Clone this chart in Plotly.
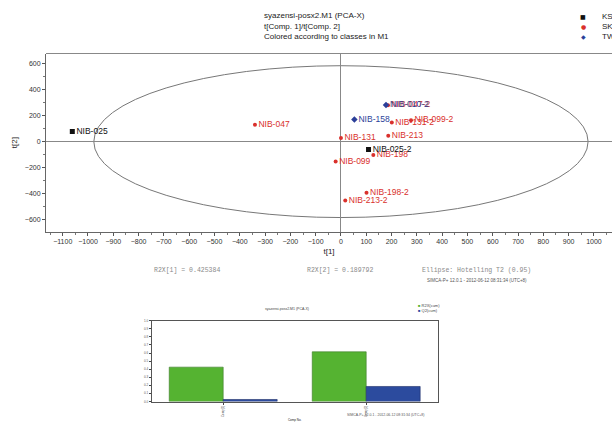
import plotly.graph_objects as go

# ---------------- data ----------------
ks_names = ["NIB-025", "NIB-025-2"]
ks_t1 = [-1062, 109]
ks_t2 = [78, -61]

sk_names = ["NIB-047", "NIB-047-2", "NIB-131-2", "NIB-099-2", "NIB-213",
            "NIB-131", "NIB-198", "NIB-099", "NIB-198-2", "NIB-213-2"]
sk_t1 = [-340, 186, 201, 277, 187, 0, 128, -21, 101, 17]
sk_t2 = [130, 280, 147, 165, 46, 28, -104, -153, -394, -453]

tw_names = ["NIB-158", "NIB-010-2"]
tw_t1 = [53, 178]
tw_t2 = [170, 282]

ellipse_a = 977   # Hotelling T2 (0.95) semi-axis on t[1]
ellipse_b = 585   # semi-axis on t[2]

comps = ["Comp[1]", "Comp[2]"]
r2x_cum = [0.425384, 0.615176]
q2_cum = [0.025, 0.186]

title_lines = ["syazensi-posx2.M1 (PCA-X)", "t[Comp. 1]/t[Comp. 2]",
               "Colored according to classes in M1"]
class_names = ["KS", "SK", "TW"]

# ---------------- figure ----------------
W, H = 612, 426
def px(x): return x / W
def py(y): return 1 - y / H

RED = "#d9302c"
BLUE = "#2b3f99"
BLACK = "#111111"
FONT = "Liberation Sans"
class_colors = [BLACK, RED, BLUE]
class_glyphs = ["■", "●", "◆"]

fig = go.Figure()

fig.add_trace(go.Scatter(x=sk_t1, y=sk_t2, mode="markers+text", name="SK",
                         text=sk_names, textposition="middle right",
                         textfont=dict(color=RED, size=8.5, family=FONT),
                         marker=dict(color=RED, size=4, symbol="circle"),
                         xaxis="x", yaxis="y"))
fig.add_trace(go.Scatter(x=tw_t1, y=tw_t2, mode="markers+text", name="TW",
                         text=tw_names, textposition="middle right",
                         textfont=dict(color=BLUE, size=8.5, family=FONT),
                         marker=dict(color=BLUE, size=5, symbol="diamond"),
                         xaxis="x", yaxis="y"))
fig.add_trace(go.Scatter(x=ks_t1, y=ks_t2, mode="markers+text", name="KS",
                         text=ks_names, textposition="middle right",
                         textfont=dict(color=BLACK, size=8.5, family=FONT),
                         marker=dict(color=BLACK, size=5, symbol="square"),
                         xaxis="x", yaxis="y"))

fig.add_trace(go.Bar(x=comps, y=r2x_cum, name="R2X(cum)",
                     marker=dict(color="#55b331", line=dict(color="#3c7a2a", width=0.6)),
                     xaxis="x2", yaxis="y2"))
fig.add_trace(go.Bar(x=comps, y=q2_cum, name="Q2(cum)",
                     marker=dict(color="#2c4b9e", line=dict(color="#1c2e66", width=0.6)),
                     xaxis="x2", yaxis="y2"))

# ellipse
fig.add_shape(type="circle", xref="x", yref="y",
              x0=-ellipse_a, x1=ellipse_a, y0=-ellipse_b, y1=ellipse_b,
              line=dict(color="#777777", width=1), layer="below")

tickfont = dict(size=7, color="#333333", family=FONT)
fig.update_layout(
    width=W, height=H, margin=dict(l=0, r=0, t=0, b=0),
    paper_bgcolor="white", plot_bgcolor="white",
    font=dict(family=FONT, color="#222222"),
    showlegend=False,
    barmode="group", bargap=0.245, bargroupgap=0,
    xaxis=dict(domain=[px(46), 1.0], range=[-1166, 1071.5], anchor="y",
               tickmode="linear", tick0=-1100, dtick=100, ticks="outside",
               ticklen=3, tickcolor="#555", tickfont=tickfont,
               minor=dict(dtick=50, ticks="outside", ticklen=2, tickcolor="#777"),
               showline=True, linecolor="#666", linewidth=1, showgrid=False,
               zeroline=True, zerolinecolor="#888", zerolinewidth=1,
               title=dict(text="t[1]", font=dict(size=8, family=FONT), standoff=4)),
    yaxis=dict(domain=[py(232), py(52)], range=[-695, 679], anchor="x",
               tickmode="linear", tick0=-600, dtick=200, ticks="outside",
               ticklen=3, tickcolor="#555", tickfont=tickfont,
               minor=dict(dtick=100, ticks="outside", ticklen=2, tickcolor="#777"),
               showline=True, linecolor="#666", linewidth=1, showgrid=False,
               zeroline=True, zerolinecolor="#888", zerolinewidth=1,
               title=dict(text="t[2]", font=dict(size=8, family=FONT), standoff=6)),
    xaxis2=dict(domain=[px(151.7), px(437.7)], anchor="y2", ticks="outside",
                ticklen=2, tickangle=-90, tickfont=dict(size=3, family=FONT, color="#555"),
                showline=True, linecolor="#555", mirror=True, linewidth=1,
                showgrid=False,
                title=dict(text="Comp No.", font=dict(size=3, family=FONT), standoff=2)),
    yaxis2=dict(domain=[py(403.3), py(321.7)], anchor="x2", range=[0, 1.0],
                tickmode="linear", tick0=0, dtick=0.1, tickformat=".1f",
                ticks="outside", ticklen=2,
                tickfont=dict(size=3, family=FONT, color="#555"),
                showline=True, linecolor="#555", mirror=True, linewidth=1,
                showgrid=False, zeroline=False),
)

# top title lines
for i, t in enumerate(title_lines):
    fig.add_annotation(x=px(262), y=py(14 + 10.5 * i), xref="paper", yref="paper",
                       text=t, showarrow=False, xanchor="left", yanchor="middle",
                       font=dict(size=8, family=FONT, color="#222"))

# class legend (top right)
for i, (nm, col, gl) in enumerate(zip(class_names, class_colors, class_glyphs)):
    fig.add_annotation(x=px(583), y=py(15 + 10 * i), xref="paper", yref="paper",
                       text=gl, showarrow=False, xanchor="center", yanchor="middle",
                       font=dict(size=6, family="DejaVu Sans", color=col))
    fig.add_annotation(x=px(600), y=py(15 + 10 * i), xref="paper", yref="paper",
                       text=nm, showarrow=False, xanchor="left", yanchor="middle",
                       font=dict(size=8, family=FONT, color="#222"))

# footer texts of score plot
mono = dict(size=6.5, family="Liberation Mono", color="#8a8a8a")
fig.add_annotation(x=px(152), y=py(271), xref="paper", yref="paper",
                   text="R2X[1] = 0.425384", showarrow=False, xanchor="left", font=mono)
fig.add_annotation(x=px(305), y=py(271), xref="paper", yref="paper",
                   text="R2X[2] = 0.189792", showarrow=False, xanchor="left", font=mono)
fig.add_annotation(x=px(420), y=py(271), xref="paper", yref="paper",
                   text="Ellipse: Hotelling T2 (0.95)", showarrow=False, xanchor="left", font=mono)
fig.add_annotation(x=px(425), y=py(281), xref="paper", yref="paper",
                   text="SIMCA-P+ 12.0.1 - 2012-06-12 08:31:34 (UTC+8)", showarrow=False,
                   xanchor="left", font=dict(size=4.5, family=FONT, color="#555"))

# bar chart title, legend, footer
fig.add_annotation(x=px(287), y=py(314), xref="paper", yref="paper",
                   text="syazensi-posx2.M1 (PCA-X)", showarrow=False,
                   font=dict(size=3.5, family=FONT, color="#444"))
fig.add_annotation(x=px(416), y=py(311), xref="paper", yref="paper",
                   text="<span style='color:#55b331'>■</span> R2X(cum)", showarrow=False,
                   xanchor="left", font=dict(size=4, family=FONT, color="#444"))
fig.add_annotation(x=px(416), y=py(316), xref="paper", yref="paper",
                   text="<span style='color:#2c4b9e'>■</span> Q2(cum)", showarrow=False,
                   xanchor="left", font=dict(size=4, family=FONT, color="#444"))
fig.add_annotation(x=px(345), y=py(421), xref="paper", yref="paper",
                   text="SIMCA-P+ 12.0.1 - 2012-06-12 08:31:34 (UTC+8)", showarrow=False,
                   xanchor="left", font=dict(size=3.5, family=FONT, color="#555"))

# top frame line of score plot
fig.add_shape(type="line", xref="paper", yref="paper", x0=px(46), x1=1.0,
              y0=py(52), y1=py(52), line=dict(color="#888", width=1))

fig.write_html("out.html", config={"displayModeBar": False},
               post_script="document.body.style.margin='0';"
                           "document.body.style.overflow='hidden';")
